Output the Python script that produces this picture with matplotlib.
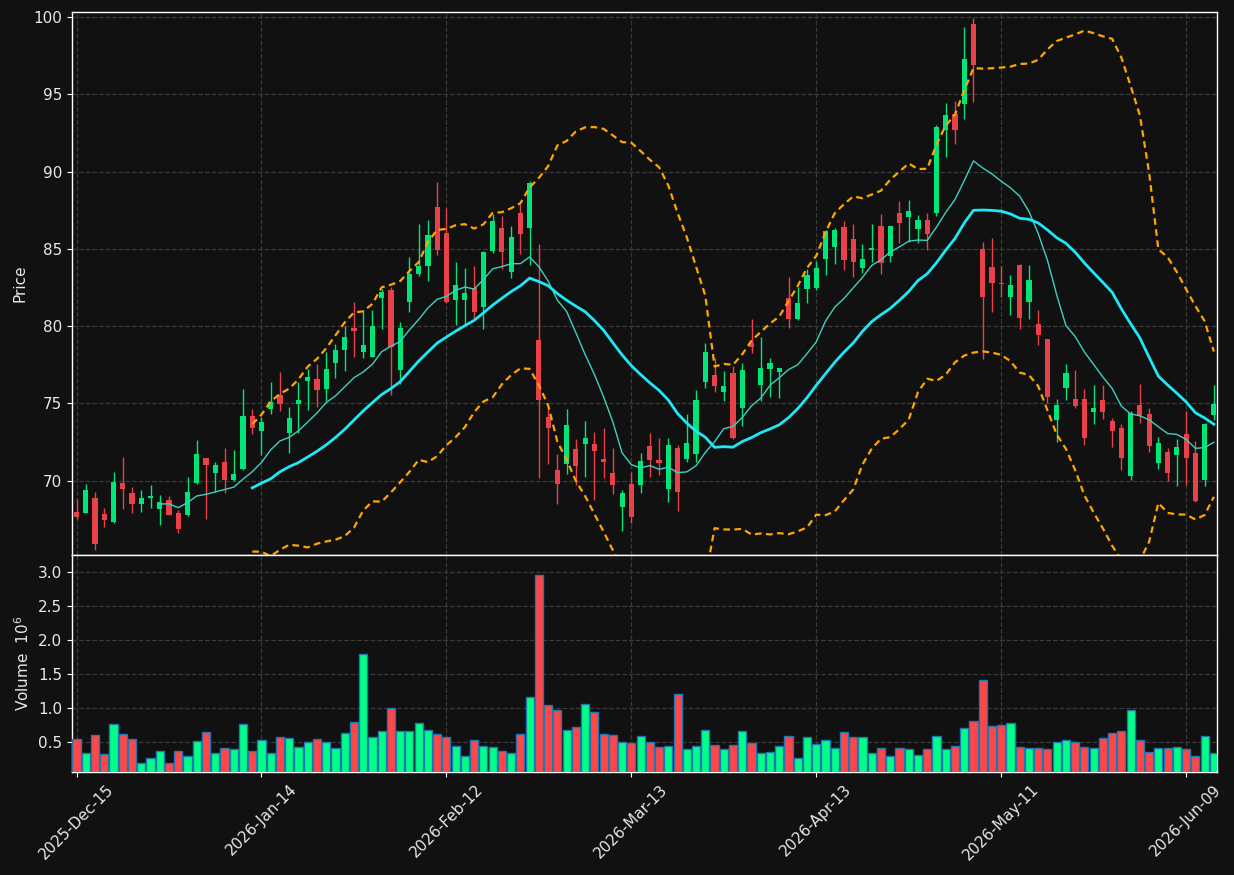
import matplotlib.pyplot as plt
import numpy as np
import pandas as pd

# daily OHLC
opens = [67.96, 67.94, 68.89, 67.85, 67.36, 69.86, 69.21, 68.52, 68.91, 68.20,
         68.76, 67.92, 67.81, 69.88, 71.47, 70.53, 71.22, 70.05, 70.78, 74.19,
         73.24, 74.65, 75.53, 73.09, 74.99, 76.46, 76.56, 75.96, 77.62, 78.48,
         79.88, 78.33, 78.03, 81.85, 82.34, 77.17, 81.59, 83.40, 83.92, 87.71,
         86.03, 81.72, 81.70, 82.47, 81.26, 84.86, 86.35, 83.53, 87.32, 86.37,
         79.11, 74.13, 70.70, 71.11, 72.06, 72.40, 72.38, 71.41, 70.51, 68.33,
         69.79, 69.73, 72.25, 71.35, 69.49, 72.12, 71.43, 71.75, 76.41, 76.84,
         75.74, 76.99, 74.73, 78.94, 76.20, 77.23, 77.04, 81.82, 80.47, 82.38,
         82.47, 84.35, 85.14, 86.42, 85.64, 83.79, 84.93, 86.48, 84.56, 87.32,
         87.09, 86.29, 86.87, 87.34, 92.69, 93.73, 94.37, 99.55, 84.99, 83.83,
         82.79, 81.91, 83.96, 81.59, 80.14, 79.17, 73.95, 76.02, 75.29, 75.29,
         74.47, 75.23, 73.87, 73.42, 70.33, 74.90, 74.32, 71.17, 71.86, 71.69,
         73.03, 71.80, 70.05, 74.28]
highs = [68.80, 69.77, 69.25, 68.22, 70.55, 71.52, 69.62, 69.38, 69.71, 69.06,
         69.04, 68.11, 70.22, 72.62, 71.50, 71.19, 72.10, 71.99, 75.92, 74.62,
         74.13, 76.37, 77.02, 74.79, 76.37, 77.23, 77.55, 78.33, 78.85, 80.01,
         81.54, 81.03, 81.03, 82.38, 82.56, 80.29, 84.50, 86.59, 86.85, 89.31,
         87.62, 84.13, 83.74, 83.92, 84.86, 87.26, 87.13, 86.46, 87.88, 89.39,
         85.32, 74.80, 71.71, 74.65, 72.70, 73.87, 73.14, 73.44, 72.10, 69.41,
         70.55, 71.78, 73.07, 72.75, 72.75, 72.32, 74.30, 75.87, 78.89, 77.92,
         77.08, 77.42, 77.60, 80.44, 79.32, 77.92, 77.30, 83.18, 82.51, 83.68,
         84.24, 86.22, 86.33, 86.80, 86.59, 85.30, 86.59, 87.24, 86.50, 88.08,
         88.14, 87.17, 87.32, 93.00, 94.42, 94.55, 99.33, 99.91, 85.43, 85.68,
         83.87, 83.29, 84.00, 83.96, 81.05, 79.20, 75.27, 77.53, 77.15, 75.92,
         76.17, 76.20, 74.08, 73.65, 74.52, 76.24, 74.69, 72.81, 72.10, 72.71,
         74.54, 72.60, 73.76, 76.20]
lows = [67.53, 67.90, 65.50, 66.99, 67.30, 68.15, 67.90, 67.96, 68.22, 67.12,
        67.77, 66.65, 67.70, 69.80, 67.51, 69.30, 69.19, 69.97, 70.70, 73.01,
        71.67, 74.30, 74.49, 71.78, 73.07, 74.58, 74.79, 75.16, 76.67, 77.12,
        78.03, 77.92, 78.00, 79.80, 75.53, 76.26, 80.90, 83.25, 82.92, 84.63,
        81.50, 80.10, 80.14, 80.51, 79.84, 84.76, 83.68, 83.14, 84.65, 83.96,
        70.16, 71.07, 68.48, 70.46, 69.71, 70.25, 68.74, 70.20, 69.13, 66.75,
        67.25, 69.23, 70.27, 70.37, 68.61, 68.05, 71.19, 71.19, 75.98, 75.72,
        75.16, 72.68, 73.57, 78.25, 75.18, 75.44, 75.38, 79.89, 80.40, 81.48,
        82.34, 83.29, 84.00, 83.61, 83.16, 83.46, 84.17, 83.35, 84.13, 85.38,
        85.43, 85.36, 84.91, 87.13, 90.92, 91.76, 93.42, 94.52, 77.86, 80.94,
        81.91, 80.70, 79.82, 80.44, 78.76, 75.01, 72.53, 75.23, 74.70, 72.30,
        73.65, 73.98, 72.17, 70.70, 70.05, 73.72, 71.89, 70.74, 70.01, 69.66,
        69.73, 68.61, 69.69, 73.93]
closes = [67.68, 69.41, 65.93, 67.49, 69.92, 69.49, 68.52, 68.89, 69.02, 68.63,
          67.81, 66.90, 69.25, 71.73, 71.04, 71.00, 70.07, 70.44, 74.19, 73.44,
          73.80, 75.08, 74.99, 74.06, 75.23, 76.71, 75.90, 77.23, 78.46, 79.30,
          79.71, 78.78, 80.01, 82.21, 78.68, 79.88, 83.36, 83.92, 85.90, 84.95,
          81.59, 82.67, 82.15, 80.92, 84.80, 86.81, 84.82, 85.77, 85.99, 89.26,
          75.23, 73.44, 69.82, 73.61, 70.98, 72.77, 71.95, 71.24, 69.75, 69.23,
          67.68, 71.28, 71.37, 71.17, 72.32, 69.30, 72.42, 75.23, 78.33, 76.15,
          76.13, 72.75, 77.17, 78.68, 77.30, 77.64, 77.28, 80.47, 81.50, 83.31,
          83.76, 86.16, 86.22, 84.30, 84.18, 84.35, 85.06, 84.11, 86.48, 86.68,
          87.45, 86.87, 85.99, 92.89, 93.64, 92.71, 97.28, 96.90, 81.91, 82.82,
          82.75, 82.64, 80.55, 82.99, 79.45, 75.40, 74.90, 76.95, 74.86, 72.79,
          74.71, 74.47, 73.24, 71.50, 74.39, 74.24, 72.27, 72.45, 70.53, 72.17,
          71.50, 68.72, 73.67, 74.99]
# volume in millions
volumes = [0.543, 0.337, 0.602, 0.323, 0.764, 0.617, 0.543, 0.190, 0.264, 0.367,
           0.190, 0.367, 0.293, 0.514, 0.646, 0.337, 0.411, 0.396, 0.764, 0.367,
           0.529, 0.337, 0.573, 0.558, 0.426, 0.499, 0.543, 0.499, 0.411, 0.632,
           0.793, 1.793, 0.573, 0.661, 1.000, 0.661, 0.661, 0.778, 0.676, 0.617,
           0.573, 0.440, 0.293, 0.529, 0.440, 0.426, 0.367, 0.337, 0.617, 1.161,
           2.955, 1.043, 0.970, 0.676, 0.720, 1.058, 0.940, 0.617, 0.602, 0.499,
           0.484, 0.587, 0.499, 0.426, 0.440, 1.205, 0.396, 0.440, 0.676, 0.455,
           0.396, 0.455, 0.661, 0.484, 0.337, 0.352, 0.440, 0.587, 0.264, 0.573,
           0.470, 0.529, 0.411, 0.646, 0.573, 0.573, 0.337, 0.411, 0.293, 0.411,
           0.396, 0.308, 0.396, 0.587, 0.396, 0.440, 0.705, 0.808, 1.411, 0.734,
           0.749, 0.778, 0.426, 0.411, 0.411, 0.396, 0.499, 0.529, 0.499, 0.426,
           0.411, 0.558, 0.632, 0.661, 0.970, 0.529, 0.352, 0.411, 0.411, 0.426,
           0.396, 0.293, 0.587, 0.337]
holidays = ['2025-12-25', '2026-01-01', '2026-01-19', '2026-02-16',
            '2026-04-03', '2026-05-25']
price_ticks = [70, 75, 80, 85, 90, 95, 100]
vol_ticks = [0.5, 1.0, 1.5, 2.0, 2.5, 3.0]

dates = pd.bdate_range('2025-12-15', periods=len(closes), freq='C', holidays=holidays)

bg = '#111111'
up_c, dn_c = '#00e57a', '#e8414a'
vup_c, vdn_c = '#00ff87', '#ff4747'

o = np.array(opens)
h = np.array(highs)
l = np.array(lows)
c = np.array(closes)
v = np.array(volumes)
x = np.arange(len(c))
up = c >= o
cols = np.where(up, up_c, dn_c)
vcols = np.where(up, vup_c, vdn_c)

s = pd.Series(c)
ma10 = s.rolling(10).mean()
ma20 = s.rolling(20).mean()
sd20 = s.rolling(20).std()

fig = plt.figure(figsize=(12.34, 8.75), dpi=100, facecolor=bg)
ax = fig.add_axes([0.0583, 0.3657, 0.928, 0.6206])
axv = fig.add_axes([0.0583, 0.1177, 0.928, 0.248], sharex=ax)

for a in (ax, axv):
    a.set_facecolor(bg)
    a.grid(True, linestyle='--', color='#3a3a3a', linewidth=0.9)
    a.set_axisbelow(True)
    for sp in a.spines.values():
        sp.set_color('white')
        sp.set_linewidth(1.0)
    a.tick_params(colors='white', labelcolor='#e8e8e8', labelsize=11, length=3.5)

# candles
ax.vlines(x, l, h, colors=cols, linewidth=1.0, zorder=2)
ax.bar(x, np.maximum(np.abs(c - o), 0.04), bottom=np.minimum(o, c), width=0.56,
       color=cols, linewidth=0, zorder=3)

# moving averages and bands
ax.plot(x, ma10, color='#3fd0c0', linewidth=1.0, zorder=4)
ax.plot(x, ma20, color='#1ee8f5', linewidth=2.0, zorder=4)
ax.plot(x, ma20 + 2 * sd20, color='#ffa500', linewidth=1.6, linestyle=(0, (3, 2)), zorder=4)
ax.plot(x, ma20 - 2 * sd20, color='#ffa500', linewidth=1.6, linestyle=(0, (3, 2)), zorder=4)

ax.set_ylim(65.2, 100.32)
ax.set_yticks(price_ticks)
ax.set_ylabel('Price', color='#e8e8e8', fontsize=11)
plt.setp(ax.get_xticklabels(), visible=False)

# volume
axv.bar(x, v, width=0.88, color=vcols, edgecolor='#1f77b4', linewidth=1.0, zorder=3)
axv.set_ylim(0.063, 3.254)
axv.set_yticks(vol_ticks)
axv.set_ylabel('Volume  $10^{6}$', color='#e8e8e8', fontsize=11)

tick_idx = list(range(0, len(c), 20))
axv.set_xticks(tick_idx)
axv.set_xticklabels([dates[i].strftime('%Y-%b-%d') for i in tick_idx],
                    rotation=45, ha='center')
axv.set_xlim(-0.5, 123.35)

fig.savefig('out.png', dpi=100, facecolor=bg)
